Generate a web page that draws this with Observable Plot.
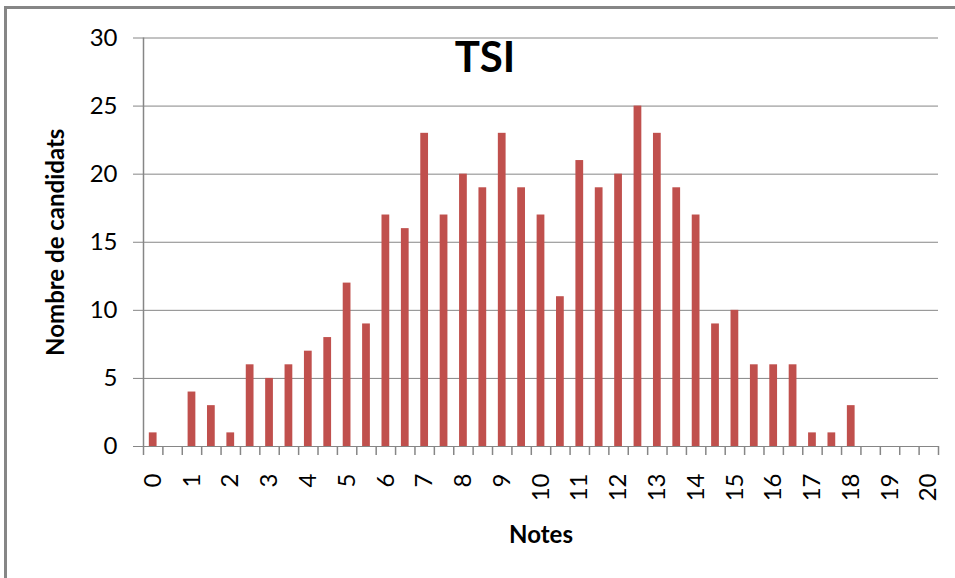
<!DOCTYPE html>
<html><head><meta charset="utf-8">
<script src="https://cdn.jsdelivr.net/npm/d3@7"></script>
<script src="https://cdn.jsdelivr.net/npm/@observablehq/plot@0.6"></script>
<style>
html,body{margin:0;padding:0;background:#fff;overflow:hidden;}
#wrap{position:relative;width:955px;height:578px;overflow:hidden;}
#chart{position:absolute;left:0;top:0;}
#border{position:absolute;left:4px;top:6px;width:1200px;height:1200px;border:3px solid #868686;box-sizing:border-box;pointer-events:none;}
</style></head><body>
<div id="wrap"><div id="chart"></div><div id="border"></div></div>
<script>
const notes = [0,0.5,1,1.5,2,2.5,3,3.5,4,4.5,5,5.5,6,6.5,7,7.5,8,8.5,9,9.5,10,10.5,11,11.5,12,12.5,13,13.5,14,14.5,15,15.5,16,16.5,17,17.5,18,18.5,19,19.5,20];
const counts = [1,0,4,3,1,6,5,6,7,8,12,9,17,16,23,17,20,19,23,19,17,11,21,19,20,25,23,19,17,9,10,6,6,6,1,1,3,0,0,0,0];
const yTicks = [0,5,10,15,20,25,30];
const xTickLabels = [0,1,2,3,4,5,6,7,8,9,10,11,12,13,14,15,16,17,18,19,20];
const titleText = "TSI";
const yLabel = "Nombre de candidats";
const xLabel = "Notes";

const data = notes.map((n, i) => ({note: n, count: counts[i]}));
const halfStep = (notes[1] - notes[0]) / 2;
const barHalf = halfStep * 0.4;
const boundaries = notes.map(n => n - halfStep).concat([notes[notes.length - 1] + halfStep]);
const gray = "#868686";

const chart = Plot.plot({
  width: 955,
  height: 578,
  marginLeft: 143,
  marginRight: 17,
  marginTop: 37.5,
  marginBottom: 132,
  style: {fontFamily: "Lato", fontSize: "24px", color: "#000", background: "transparent"},
  x: {type: "linear", domain: [boundaries[0], boundaries[boundaries.length - 1]]},
  y: {domain: [0, 30]},
  marks: [
    Plot.gridY(yTicks, {stroke: gray, strokeOpacity: 1, strokeWidth: 1}),
    Plot.rectY(data, {x1: d => d.note - barHalf, x2: d => d.note + barHalf, y: "count", fill: "#C0504D"}),
    Plot.ruleX([boundaries[0]], {y1: 0, y2: 30, stroke: gray, strokeWidth: 1.5}),
    Plot.axisY(yTicks, {tickSize: 10, tickPadding: 16, stroke: gray, strokeWidth: 1, label: null, fill: "#000", fontSize: 24}),
    Plot.axisX(boundaries, {tickSize: 9, tickFormat: () => "", stroke: gray, strokeWidth: 1.5, label: null}),
    Plot.axisX(xTickLabels, {tickSize: 0, tickPadding: 27, tickRotate: -90, label: null, fill: "#000", fontSize: 24}),
    Plot.text([titleText], {frameAnchor: "top", dx: -56, dy: 21, fontSize: 42, fontWeight: "bold", fill: "#000", lineAnchor: "middle"}),
    Plot.text([yLabel], {frameAnchor: "left", dx: -87, rotate: -90, textAnchor: "middle", fontSize: 24, fontWeight: "bold", fill: "#000"}),
    Plot.text([xLabel], {frameAnchor: "bottom", dy: 96, fontSize: 24, fontWeight: "bold", fill: "#000"})
  ]
});
document.getElementById("chart").appendChild(chart);
</script>
</body></html>
